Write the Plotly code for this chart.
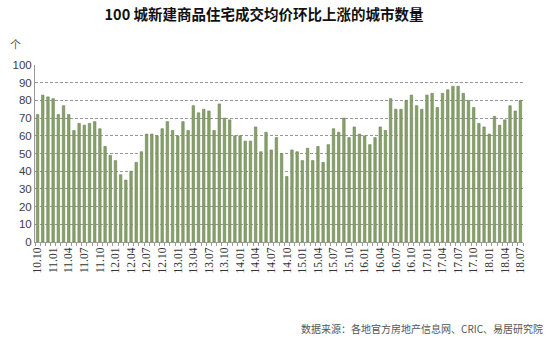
import plotly.graph_objects as go

months = []
y, m = 2010, 10
while (y, m) <= (2018, 7):
    months.append(f"{y % 100:02d}.{m:02d}")
    m += 1
    if m > 12:
        m = 1
        y += 1

values = [
    72, 83, 82, 81, 72, 77, 72, 63, 67, 66,
    67, 68, 64, 54, 49, 46, 38, 35, 40, 45,
    51, 61, 61, 60, 64, 68, 63, 60, 68, 63,
    77, 73, 75, 74, 63, 78, 70, 69, 60, 60,
    57, 57, 65, 51, 62, 52, 59, 50, 37, 52,
    51, 46, 53, 46, 54, 45, 55, 64, 62, 70,
    59, 65, 61, 60, 55, 59, 65, 63, 81, 75,
    75, 80, 83, 77, 75, 83, 84, 76, 84, 86,
    88, 88, 84, 80, 76, 67, 65, 61, 71, 66,
    69, 77, 74, 80,
]

tick_text = [lab if i % 3 == 0 else "" for i, lab in enumerate(months)]
y_ticks = list(range(0, 101, 10))

title_text = "100 城新建商品住宅成交均价环比上涨的城市数量"
unit_text = "个"
source_text = "数据来源：各地官方房地产信息网、CRIC、易居研究院"

fig = go.Figure()
fig.add_trace(go.Bar(
    x=months, y=values,
    marker=dict(color="#86a366", line=dict(color="#6f8259", width=0.6)),
    width=0.48,
))

fig.update_layout(
    width=550, height=338,
    margin=dict(l=35, r=27, t=65, b=96),
    paper_bgcolor="white", plot_bgcolor="white",
    showlegend=False,
    title=dict(text=title_text, x=0.48, xanchor="center", y=0.955, yanchor="middle",
               font=dict(family="Noto Sans CJK SC", size=14.5, color="#111111", weight="bold")),
    annotations=[
        dict(text=unit_text, xref="paper", yref="paper", x=-0.055, y=1.06,
             xanchor="left", yanchor="bottom", showarrow=False,
             font=dict(family="Noto Sans CJK SC", size=11, color="#555555")),
        dict(text=source_text, xref="paper", yref="paper", x=1.045, y=-0.49,
             xanchor="right", yanchor="middle", showarrow=False,
             font=dict(family="Noto Sans CJK SC", size=10, color="#555555")),
    ],
)

fig.update_xaxes(
    type="category",
    tickmode="array", tickvals=months, ticktext=tick_text,
    tickangle=-90,
    tickfont=dict(family="Liberation Serif", size=11.5, color="#333333"),
    showline=True, linecolor="#9a9a9a", linewidth=1,
    ticks="outside", ticklen=3, tickcolor="#9a9a9a", tickson="boundaries",
    showgrid=False,
)
fig.update_yaxes(
    range=[0, 100], tickvals=y_ticks,
    tickfont=dict(family="Liberation Sans", size=11.5, color="#404040"),
    showline=True, linecolor="#9a9a9a", linewidth=1,
    showgrid=True, gridcolor="#999999", griddash="3px,2px", gridwidth=1,
    zeroline=False, ticks="", ticklen=0,
)

fig.write_html("out.html")
